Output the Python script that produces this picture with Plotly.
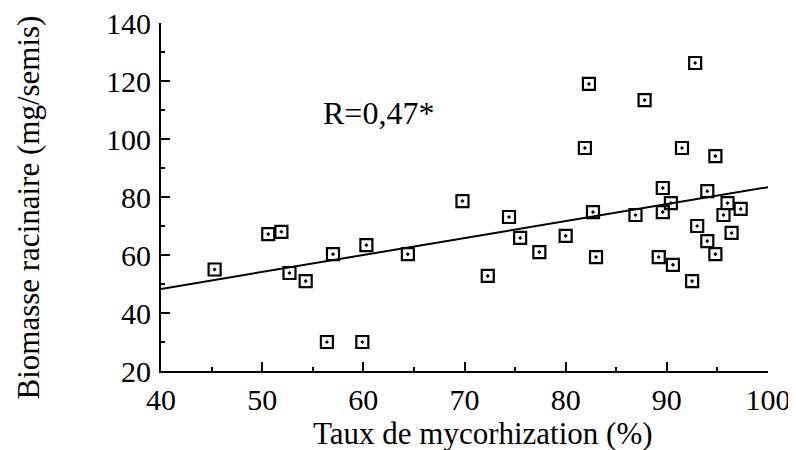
import plotly.graph_objects as go

# Taux de mycorhization (%) vs biomasse racinaire (mg/semis)
myco = [45.3, 50.6, 51.9, 52.7, 54.3, 57.0, 60.3, 56.4, 59.9, 64.4,
        69.8, 74.4, 75.5, 77.4, 72.3, 80.0, 82.3, 81.9, 82.7, 83.0,
        87.8, 86.9, 89.6, 89.6, 90.4, 89.2, 90.6, 91.5, 92.8, 92.5,
        93.0, 94.0, 94.0, 94.8, 94.8, 96.0, 95.6, 97.3, 96.4]
biomasse = [55.0, 67.2, 68.0, 53.8, 51.0, 60.3, 63.4, 30.0, 30.0, 60.3,
            78.6, 73.1, 65.9, 61.0, 52.8, 66.6, 119.0, 96.9, 74.8, 59.3,
            113.4, 73.8, 83.1, 74.8, 77.9, 59.3, 56.6, 96.9, 126.2, 51.0,
            70.0, 82.0, 64.8, 94.1, 60.3, 77.9, 73.8, 75.9, 67.6]

# regression line ends
reg_x = [40, 100]
reg_y = [48.3, 83.4]

serif = "Liberation Serif"

fig = go.Figure()

fig.add_trace(go.Scatter(
    x=reg_x, y=reg_y, mode="lines",
    line=dict(color="black", width=2),
    hoverinfo="skip"
))

fig.add_trace(go.Scatter(
    x=myco, y=biomasse, mode="markers",
    marker=dict(symbol="square-open-dot", size=12, color="black",
                line=dict(width=2.2, color="black")),
    hovertemplate="%{x}%, %{y} mg<extra></extra>"
))

fig.add_annotation(
    x=61.5, y=109, xref="x", yref="y",
    text="R=0,47*", showarrow=False,
    font=dict(family=serif, size=32, color="black")
)

# axis titles as annotations so they sit where the scan has them
fig.add_annotation(
    x=0.53, y=-0.181, xref="paper", yref="paper",
    xanchor="center", yanchor="middle",
    text="Taux de mycorhization (%)", showarrow=False,
    font=dict(family=serif, size=31, color="black")
)
fig.add_annotation(
    x=-0.219, y=0.47, xref="paper", yref="paper",
    xanchor="center", yanchor="middle", textangle=-90,
    text="Biomasse racinaire (mg/semis)", showarrow=False,
    font=dict(family=serif, size=31, color="black")
)

# page body has an 8px margin, so the figure is a bit smaller than the window
fig.update_layout(
    width=788, height=442,
    plot_bgcolor="white", paper_bgcolor="white",
    showlegend=False,
    margin=dict(l=153, r=28, t=15, b=79),
    font=dict(family=serif, color="black", size=30),
    xaxis=dict(
        range=[40, 100], dtick=10, tick0=40, automargin=False,
        showline=True, linecolor="black", linewidth=2,
        showgrid=False, zeroline=False,
        ticks="inside", ticklen=9, tickwidth=2, tickcolor="black",
        minor=dict(ticks="inside", ticklen=4, tickwidth=2, dtick=5, tickcolor="black"),
        tickfont=dict(family=serif, size=30),
        ticklabelstandoff=1, ticklabeloverflow="allow",
    ),
    yaxis=dict(
        range=[20, 140], dtick=20, tick0=20, automargin=False,
        showline=True, linecolor="black", linewidth=2,
        showgrid=False, zeroline=False,
        ticks="inside", ticklen=9, tickwidth=2, tickcolor="black",
        minor=dict(ticks="inside", ticklen=4, tickwidth=2, dtick=10, tickcolor="black"),
        tickfont=dict(family=serif, size=30),
        ticklabelstandoff=2, ticklabeloverflow="allow",
    ),
)

fig.write_html("out.html")
